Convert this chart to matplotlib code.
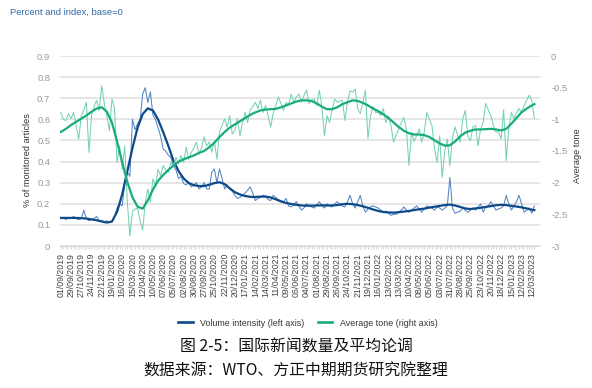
import numpy as np
import pandas as pd
import matplotlib.pyplot as plt

plt.rcParams['font.family'] = ['Liberation Sans', 'Noto Sans CJK SC', 'DejaVu Sans']

# weekly observations, 01/09/2019 onwards
dates = pd.date_range('2019-09-01', periods=186, freq='7D')
tick_labels = [d.strftime('%d/%m/%Y') for d in dates[::4]]

# volume intensity, % of monitored articles (left axis)
volume_raw = [
    0.13, 0.135, 0.125, 0.135, 0.13, 0.14, 0.13, 0.125, 0.13, 0.17,
    0.13, 0.12, 0.125, 0.13, 0.14, 0.12, 0.12, 0.115, 0.12, 0.11,
    0.115, 0.14, 0.18, 0.20, 0.19, 0.30, 0.35, 0.33, 0.60, 0.55,
    0.58, 0.60, 0.72, 0.75, 0.68, 0.73, 0.62, 0.60, 0.56, 0.52,
    0.46, 0.45, 0.43, 0.42, 0.38, 0.36, 0.32, 0.33, 0.295, 0.29,
    0.30, 0.28, 0.29, 0.30, 0.27, 0.28, 0.30, 0.27, 0.27, 0.35,
    0.365, 0.30, 0.365, 0.32, 0.27, 0.29, 0.27, 0.26, 0.24, 0.225,
    0.23, 0.24, 0.25, 0.265, 0.28, 0.25, 0.215, 0.225, 0.23, 0.24,
    0.235, 0.22, 0.215, 0.24, 0.23, 0.22, 0.215, 0.21, 0.225, 0.19,
    0.185, 0.195, 0.21, 0.19, 0.17, 0.18, 0.20, 0.19, 0.185, 0.18,
    0.195, 0.21, 0.19, 0.18, 0.20, 0.19, 0.185, 0.20, 0.21, 0.195,
    0.19, 0.185, 0.21, 0.24, 0.20, 0.18, 0.21, 0.24, 0.19, 0.16,
    0.175, 0.185, 0.19, 0.185, 0.18, 0.17, 0.16, 0.165, 0.155, 0.145,
    0.15, 0.15, 0.16, 0.17, 0.185, 0.17, 0.16, 0.17, 0.18, 0.19,
    0.175, 0.16, 0.175, 0.19, 0.185, 0.18, 0.17, 0.185, 0.18, 0.17,
    0.18, 0.19, 0.325, 0.18, 0.155, 0.16, 0.165, 0.18, 0.17, 0.16,
    0.17, 0.18, 0.17, 0.185, 0.20, 0.16, 0.185, 0.19, 0.21, 0.19,
    0.17, 0.175, 0.18, 0.19, 0.24, 0.20, 0.17, 0.19, 0.21, 0.24,
    0.20, 0.16, 0.17, 0.18, 0.155, 0.19,
]

# average tone (right axis)
tone_raw = [
    -0.89, -1.00, -1.02, -0.91, -0.99, -0.89, -1.10, -1.31, -0.95, -0.85,
    -0.73, -1.52, -0.94, -0.80, -0.70, -0.86, -0.47, -0.75, -0.95, -1.18,
    -0.68, -0.83, -1.68, -1.42, -1.79, -1.42, -2.31, -2.84, -2.45, -2.42,
    -2.40, -2.60, -2.75, -2.31, -2.10, -2.31, -1.94, -2.05, -1.79, -1.89,
    -1.73, -1.80, -1.84, -1.68, -1.75, -1.60, -1.70, -1.57, -1.68, -1.44,
    -1.63, -1.52, -1.45, -1.36, -1.55, -1.45, -1.28, -1.42, -1.36, -1.52,
    -1.34, -1.63, -1.20, -1.10, -0.99, -1.12, -0.94, -1.23, -1.18, -0.99,
    -1.26, -1.05, -0.89, -1.05, -0.85, -0.80, -0.73, -0.83, -0.70, -0.89,
    -0.78, -0.94, -1.12, -0.90, -0.78, -0.65, -0.75, -0.86, -0.73, -0.78,
    -0.60, -0.73, -0.65, -0.60, -0.73, -0.62, -0.54, -0.75, -0.70, -0.68,
    -0.78, -0.54, -0.80, -1.26, -0.94, -1.05, -0.85, -0.68, -0.73, -0.71,
    -0.70, -1.02, -0.72, -0.55, -0.57, -0.52, -0.83, -0.91, -0.73, -0.54,
    -1.30, -0.95, -0.80, -0.89, -0.89, -0.94, -0.83, -1.05, -0.95, -1.10,
    -1.36, -1.25, -1.15, -1.05, -0.97, -1.15, -1.73, -1.20, -1.35, -1.26,
    -1.15, -1.36, -1.20, -0.89, -1.00, -1.10, -1.47, -1.68, -1.26, -1.92,
    -1.50, -1.31, -1.73, -1.30, -1.12, -1.25, -1.36, -1.00, -0.86, -1.26,
    -1.34, -1.12, -1.10, -1.42, -1.15, -1.05, -0.75, -0.85, -0.94, -1.10,
    -1.20, -1.20, -1.31, -0.85, -1.65, -1.15, -0.89, -0.99, -0.90, -0.83,
    -0.89, -0.78, -0.70, -0.62, -0.70, -0.99,
]

# smoothed trend lines, read every second week
smooth_weeks = list(range(0, 186, 2)) + [185]
volume_smooth = [
    0.133, 0.133, 0.133, 0.133, 0.132, 0.130, 0.126, 0.122, 0.116, 0.111,
    0.116, 0.162, 0.245, 0.354, 0.464, 0.560, 0.625, 0.652, 0.642, 0.600,
    0.540, 0.475, 0.405, 0.355, 0.320, 0.298, 0.288, 0.284, 0.284, 0.290,
    0.298, 0.302, 0.293, 0.273, 0.255, 0.244, 0.237, 0.233, 0.232, 0.234,
    0.234, 0.230, 0.221, 0.211, 0.204, 0.199, 0.195, 0.192, 0.191, 0.191,
    0.192, 0.193, 0.192, 0.192, 0.194, 0.198, 0.200, 0.198, 0.194, 0.188,
    0.181, 0.173, 0.166, 0.161, 0.159, 0.158, 0.160, 0.163, 0.166, 0.170,
    0.174, 0.177, 0.182, 0.186, 0.190, 0.194, 0.196, 0.192, 0.185, 0.178,
    0.175, 0.178, 0.181, 0.185, 0.189, 0.193, 0.195, 0.194, 0.190, 0.187,
    0.183, 0.178, 0.172, 0.170,
]
tone_smooth = [
    -1.20, -1.15, -1.09, -1.04, -0.99, -0.94, -0.88, -0.83, -0.81, -0.88,
    -1.05, -1.35, -1.68, -1.99, -2.23, -2.38, -2.41, -2.28, -2.11, -1.97,
    -1.88, -1.80, -1.73, -1.67, -1.63, -1.60, -1.57, -1.53, -1.50, -1.44,
    -1.37, -1.28, -1.20, -1.13, -1.08, -1.03, -0.98, -0.93, -0.89, -0.86,
    -0.845, -0.84, -0.835, -0.81, -0.78, -0.75, -0.72, -0.70, -0.70, -0.71,
    -0.75, -0.80, -0.84, -0.84, -0.81, -0.76, -0.73, -0.70, -0.71, -0.74,
    -0.78, -0.83, -0.87, -0.92, -0.98, -1.05, -1.12, -1.18, -1.22, -1.24,
    -1.24, -1.25, -1.28, -1.33, -1.38, -1.415, -1.41, -1.35, -1.27, -1.21,
    -1.18, -1.16, -1.16, -1.155, -1.15, -1.16, -1.175, -1.15, -1.07, -0.98,
    -0.89, -0.83, -0.78, -0.76,
]

weeks = np.arange(len(dates))

fig = plt.figure(figsize=(5.92, 3.88), dpi=100)
ax = fig.add_axes([60 / 592, 1 - 246 / 388, 480 / 592, 190 / 388])

ax.plot(weeks, volume_raw, color='#5585c0', lw=0.75)
ax.plot(smooth_weeks, volume_smooth, color='#0d4a8a', lw=1.6)
ax.set_ylim(0, 0.9)
ax.set_xlim(-0.3, 187.2)
ax.set_yticks(np.arange(0, 0.91, 0.1))
ax.set_yticklabels(['0'] + ['%.1f' % v for v in np.arange(0.1, 0.91, 0.1)])
ax.yaxis.grid(True, color='#e2e2e2', lw=1.2)
ax.set_axisbelow(True)
ax.set_xticks(weeks[::4])
ax.set_xticklabels(tick_labels, rotation=90, fontsize=6.3, color='#444444')
ax.set_xticks(weeks, minor=True)
ax.tick_params(axis='x', which='both', length=2, width=0.5, color='#c8c8c8', pad=3)
ax.tick_params(axis='y', length=0, pad=7, labelsize=6.8, labelcolor='#999999')
for s in ['top', 'right', 'left']:
    ax.spines[s].set_visible(False)
ax.spines['bottom'].set_color('#d0d0d0')
ax.spines['bottom'].set_linewidth(0.6)

ax2 = ax.twinx()
ax2.plot(weeks, tone_raw, color='#74d2b4', lw=0.75)
ax2.plot(smooth_weeks, tone_smooth, color='#1aaa80', lw=1.6)
ax2.set_ylim(-3, 0)
ax2.set_yticks([0, -0.5, -1, -1.5, -2, -2.5, -3])
ax2.set_yticklabels(['0', '-0.5', '-1', '-1.5', '-2', '-2.5', '-3'])
ax2.tick_params(axis='y', length=0, pad=8, labelsize=6.8, labelcolor='#999999')
for s in ax2.spines.values():
    s.set_visible(False)

fig.text(28 / 592, 1 - 160 / 388, '% of monitored articles', rotation=90,
         ha='center', va='center', fontsize=6.6, color='#333333')
fig.text(577 / 592, 1 - 156 / 388, 'Average tone', rotation=90,
         ha='center', va='center', fontsize=6.6, color='#333333')
fig.text(10 / 592, 1 - 12 / 388, 'Percent and index, base=0',
         ha='left', va='center', fontsize=6.8, color='#2f6aa8')

h1, = ax.plot([], [], color='#0d4a8a', lw=1.9)
h2, = ax.plot([], [], color='#1aaa80', lw=1.9)
fig.legend([h1, h2], ['Volume intensity (left axis)', 'Average tone (right axis)'],
           loc='center', bbox_to_anchor=(0.52, 1 - 323 / 388), ncol=2,
           frameon=False, fontsize=6.4, handlelength=1.6, columnspacing=1.6,
           labelcolor='#333333')

fig.text(0.5, 1 - 347 / 388, '图 2-5：国际新闻数量及平均论调', ha='center', va='center',
         fontsize=11.4, family=['Noto Sans CJK SC', 'DejaVu Sans'], color='#111111')
fig.text(0.5, 1 - 371 / 388, '数据来源：WTO、方正中期期货研究院整理', ha='center', va='center',
         fontsize=11.4, family=['Noto Sans CJK SC', 'DejaVu Sans'], color='#111111')

fig.savefig('out.png', dpi=100)
